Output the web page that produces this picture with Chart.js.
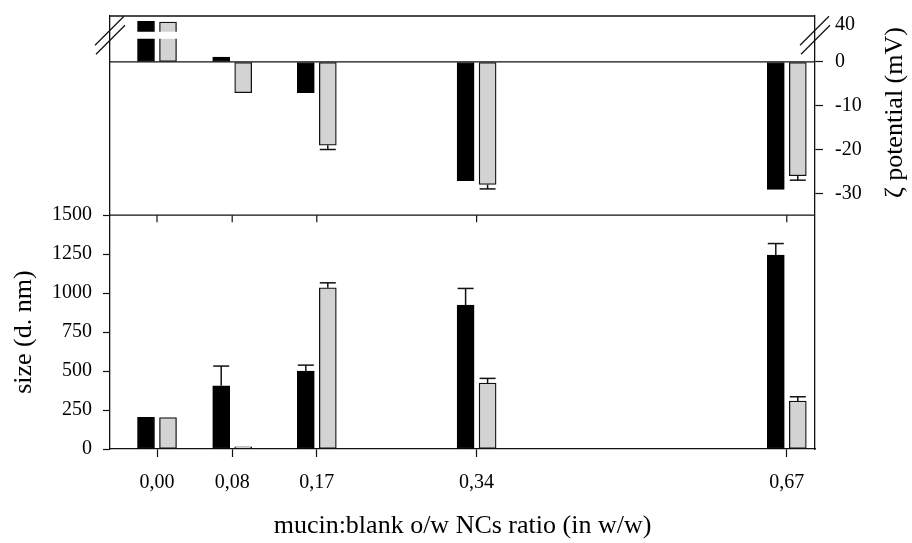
<!DOCTYPE html>
<html>
<head>
<meta charset="utf-8">
<script src="https://cdn.jsdelivr.net/npm/chart.js@4/dist/chart.umd.min.js"></script>
<style>
  html, body { margin: 0; padding: 0; background: #fff; }
  #wrap { width: 912px; height: 543px; }
</style>
</head>
<body>
<div id="wrap"><canvas id="c" width="912" height="543"></canvas></div>
<script>
// ---------------- data ----------------
const xValues      = [0, 0.08, 0.17, 0.34, 0.67];
const xTickLabels  = ['0,00', '0,08', '0,17', '0,34', '0,67'];

const sizeBlack    = [203, 406, 500, 923, 1244];
const sizeBlackErr = [0, 126, 38, 107, 74];
const sizeGrey     = [202, 14, 1034, 423, 308];
const sizeGreyErr  = [0, 0, 32, 30, 27];

const zetaBlack    = [40.8, 1.1, -7.0, -27.1, -29.1];
const zetaBlackErr = [0, 0, 0, 0, 0];
const zetaGrey     = [40.6, -7.0, -19.0, -28.0, -26.0];
const zetaGreyErr  = [0, 0, 1.0, 1.0, 1.0];

const sizeTicks    = [0, 250, 500, 750, 1000, 1250, 1500];
const zetaTicks    = [40, 0, -10, -20, -30];

const xTitle    = 'mucin:blank o/w NCs ratio (in w/w)';
const sizeTitle = 'size (d. nm)';
const zetaTitle = 'ζ potential (mV)';

// ---------------- layout constants ----------------
const FONT = '"Liberation Serif", "Times New Roman", serif';
const INK = '#111';
const TOP_FRAC = 0.46;             // share of the plot height used by the zeta panel
const SIZE_MAX = 1500 / (1 - TOP_FRAC);
const BLACK = '#000';
const GREY = '#d3d3d3';

// Broken (two-segment) linear scale for the zeta panel
class BrokenScale extends Chart.LinearScale {
  _k() {
    const o = this.options;
    const h = (this.bottom - this.top) * o.panelFraction;
    const U = (o.breakLow - o.min) + o.gapUnits + (o.max - o.breakHigh);
    return { h, k: h / U };
  }
  getPixelForValue(value) {
    const o = this.options;
    const { h, k } = this._k();
    if (value <= o.breakLow) return this.top + h - (value - o.min) * k;
    if (value >= o.breakHigh) return this.top + (o.max - value) * k;
    const t = (value - o.breakLow) / (o.breakHigh - o.breakLow);
    return this.top + h - (o.breakLow - o.min + t * o.gapUnits) * k;
  }
  getValueForPixel(pixel) {
    const o = this.options;
    const { h, k } = this._k();
    return o.min + (this.top + h - pixel) / k;
  }
}
BrokenScale.id = 'broken';
BrokenScale.defaults = Chart.LinearScale.defaults;
Chart.register(BrokenScale);

Chart.defaults.font.family = FONT;
Chart.defaults.font.size = 20;
Chart.defaults.color = '#000';

function line(ctx, x1, y1, x2, y2) {
  ctx.beginPath(); ctx.moveTo(x1, y1); ctx.lineTo(x2, y2); ctx.stroke();
}

const panelsPlugin = {
  id: 'panels',
  afterDatasetsDraw(chart) {
    const ctx = chart.ctx;
    const zs = chart.scales.yZeta;
    const zo = zs.options;
    const gTop = zs.getPixelForValue(zo.breakHigh);
    const gBot = zs.getPixelForValue(zo.breakLow);
    ctx.save();
    // whiten the axis break across tall bars
    chart.data.datasets.forEach((ds, di) => {
      if (ds.yAxisID !== 'yZeta') return;
      const meta = chart.getDatasetMeta(di);
      meta.data.forEach((bar, i) => {
        if (ds.data[i].y > zo.breakHigh) {
          ctx.fillStyle = '#fff';
          ctx.fillRect(bar.x - bar.width / 2 - 1.5, gTop, bar.width + 3, gBot - gTop);
        }
      });
    });
    // error bars
    ctx.strokeStyle = INK;
    ctx.lineWidth = 1.5;
    chart.data.datasets.forEach((ds, di) => {
      if (!ds.errors) return;
      const meta = chart.getDatasetMeta(di);
      const sc = chart.scales[ds.yAxisID];
      meta.data.forEach((bar, i) => {
        const e = ds.errors[i];
        if (!e) return;
        const v = ds.data[i].y;
        const end = sc.getPixelForValue(v >= 0 ? v + e : v - e);
        const half = bar.width / 2 - 0.5;
        line(ctx, bar.x, bar.y, bar.x, end);
        line(ctx, bar.x - half, end, bar.x + half, end);
      });
    });
    ctx.restore();
  },
  afterDraw(chart) {
    const ctx = chart.ctx;
    const ca = chart.chartArea;
    const xs = chart.scales.x, ys = chart.scales.ySize, zs = chart.scales.yZeta;
    const yMid = ys.getPixelForValue(1500);
    const y0 = zs.getPixelForValue(0);
    ctx.save();
    ctx.strokeStyle = INK;
    ctx.lineWidth = 1.3;
    // top frame, panel separator, zero line
    line(ctx, ca.left, ca.top, ca.right, ca.top);
    line(ctx, ca.left, yMid, ca.right, yMid);
    line(ctx, ca.left, y0, ca.right, y0);
    // x ticks of the upper panel
    ctx.lineWidth = 1.2;
    xValues.forEach(v => {
      const px = xs.getPixelForValue(v);
      line(ctx, px, yMid, px, yMid + 7);
    });
    // break marks
    const zo = zs.options;
    const cy = (zs.getPixelForValue(zo.breakHigh) + zs.getPixelForValue(zo.breakLow)) / 2;
    ctx.lineWidth = 1.3;
    [ca.left, ca.right].forEach(cx => {
      line(ctx, cx - 15, cy + 10, cx + 14, cy - 19);
      line(ctx, cx - 14, cy + 19, cx + 15, cy - 10);
    });
    // side titles (rotated, reading upwards)
    ctx.fillStyle = '#000';
    ctx.font = '26px ' + FONT;
    ctx.textAlign = 'center';
    ctx.textBaseline = 'alphabetic';
    ctx.save();
    ctx.translate(31, (yMid + ca.bottom) / 2);
    ctx.rotate(-Math.PI / 2);
    ctx.fillText(sizeTitle, 0, 0);
    ctx.restore();
    ctx.save();
    ctx.translate(902, (ca.top + yMid) / 2 - 3);
    ctx.rotate(-Math.PI / 2);
    ctx.fillText(zetaTitle, 0, 0);
    ctx.restore();
    ctx.restore();
  }
};

const pts = arr => xValues.map((x, i) => ({ x, y: arr[i] }));
const barCommon = { barThickness: 22, maxBarThickness: 17, borderSkipped: false };
const noPadV = s => { s.paddingTop = 0; s.paddingBottom = 0; };

new Chart(document.getElementById('c'), {
  type: 'bar',
  data: {
    datasets: [
      { ...barCommon, label: 'size A', data: pts(sizeBlack), errors: sizeBlackErr, yAxisID: 'ySize', stack: 'black',
        backgroundColor: BLACK, borderColor: BLACK, borderWidth: 1 },
      { ...barCommon, label: 'size B', data: pts(sizeGrey), errors: sizeGreyErr, yAxisID: 'ySize', stack: 'grey',
        backgroundColor: GREY, borderColor: INK, borderWidth: 1.3 },
      { ...barCommon, label: 'zeta A', data: pts(zetaBlack), errors: zetaBlackErr, yAxisID: 'yZeta', stack: 'black',
        backgroundColor: BLACK, borderColor: BLACK, borderWidth: 1 },
      { ...barCommon, label: 'zeta B', data: pts(zetaGrey), errors: zetaGreyErr, yAxisID: 'yZeta', stack: 'grey',
        backgroundColor: GREY, borderColor: INK, borderWidth: 1.3 }
    ]
  },
  options: {
    responsive: false,
    animation: false,
    events: [],
    devicePixelRatio: 1,
    layout: { padding: { top: 16, left: 0, right: 0, bottom: 0 } },
    plugins: { legend: { display: false }, tooltip: { enabled: false } },
    scales: {
      x: {
        type: 'linear',
        position: 'bottom',
        min: -0.05, max: 0.70,
        offset: false,
        grid: { offset: false, drawOnChartArea: false, tickLength: 8, tickColor: INK, tickWidth: 1.2 },
        border: { display: true, color: INK, width: 1.3 },
        afterBuildTicks: s => { s.ticks = xValues.map(v => ({ value: v })); },
        afterFit: s => { s.height = 94; s.paddingLeft = 0; s.paddingRight = 0; },
        ticks: { autoSkip: false, maxRotation: 0, padding: 14, color: '#000',
                 callback: (v, i) => xTickLabels[i] },
        title: { display: true, text: xTitle, font: { size: 26 }, padding: { top: 0, bottom: 1 }, color: '#000' }
      },
      ySize: {
        type: 'linear',
        position: 'left',
        min: 0, max: SIZE_MAX,
        stacked: false,
        grid: { drawOnChartArea: false, tickLength: 7, tickColor: INK, tickWidth: 1.2 },
        border: { display: true, color: INK, width: 1.3 },
        afterBuildTicks: s => { s.ticks = sizeTicks.map(v => ({ value: v })); },
        afterFit: s => { s.width = 110; noPadV(s); },
        ticks: { padding: 11, color: '#000', callback: v => String(v) }
      },
      yZeta: {
        type: 'broken',
        position: 'right',
        min: -35, max: 42,
        breakLow: 5.3, breakHigh: 38.4, gapUnits: 1.6,
        panelFraction: TOP_FRAC,
        stacked: false,
        grid: { drawOnChartArea: false, tickLength: 8, tickWidth: 1.2,
                tickColor: c => (c.tick && c.tick.value === 40) ? 'rgba(0,0,0,0)' : INK },
        border: { display: true, color: INK, width: 1.3 },
        afterBuildTicks: s => { s.ticks = zetaTicks.map(v => ({ value: v })); },
        afterFit: s => { s.width = 97; noPadV(s); },
        ticks: { padding: 12, color: '#000', callback: v => String(v) }
      }
    }
  },
  plugins: [panelsPlugin]
});
</script>
</body>
</html>
